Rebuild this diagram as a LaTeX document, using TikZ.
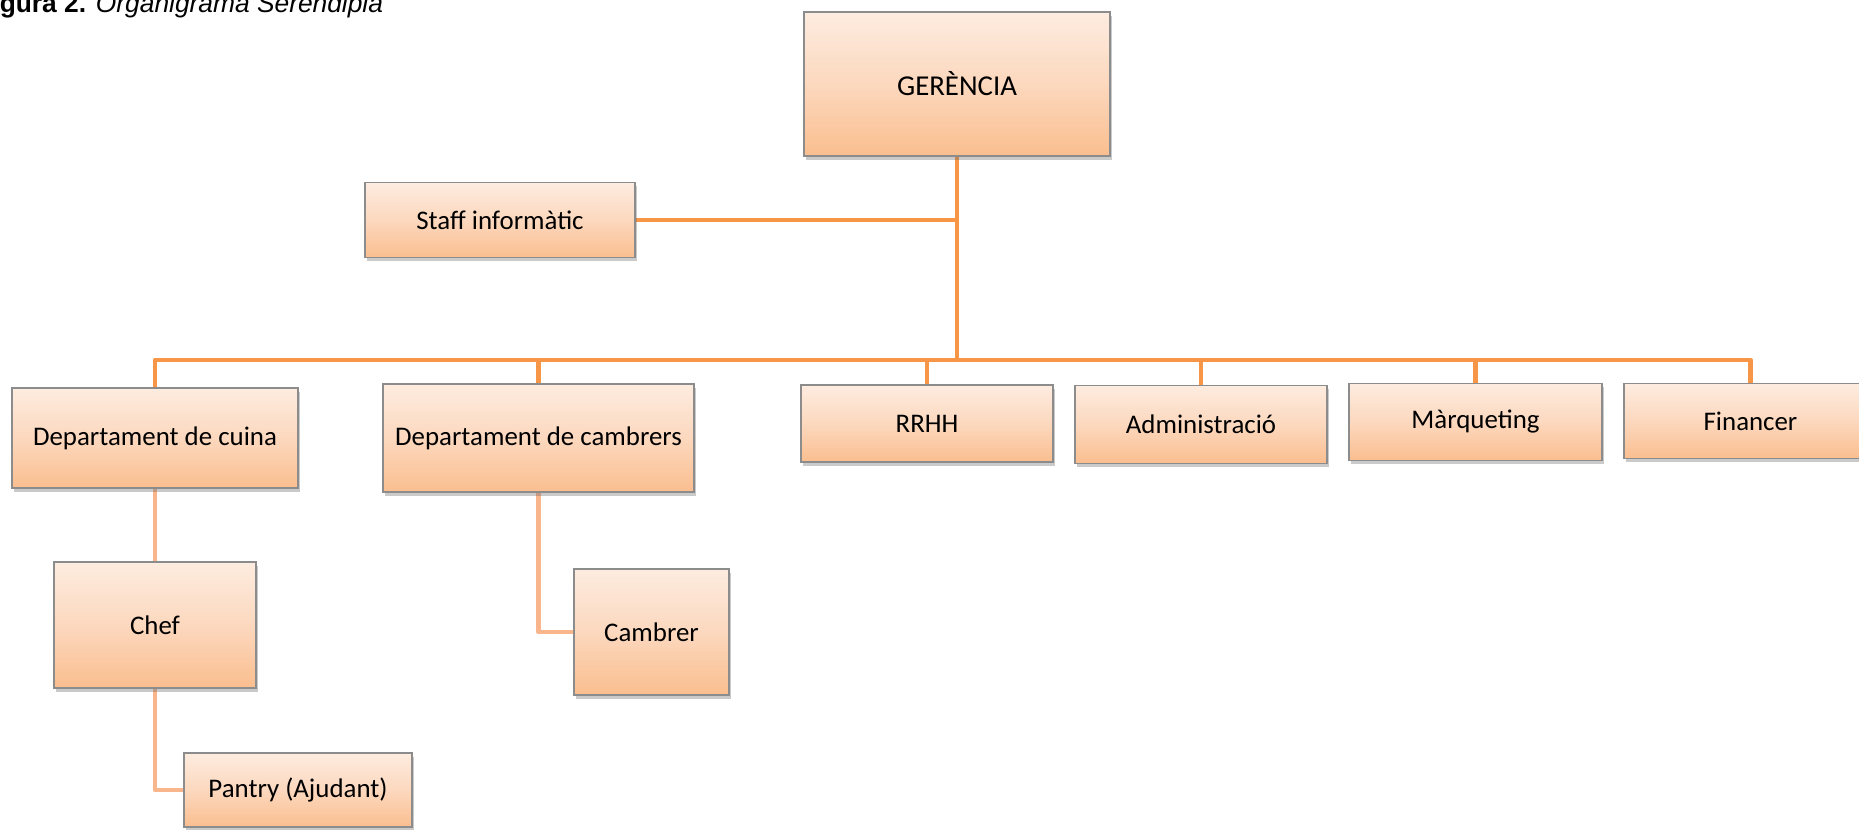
\documentclass[tikz,border=0pt]{standalone}
\usepackage{fontspec}
\setmainfont{Carlito}
\newfontfamily\capfont{Liberation Sans}
\usetikzlibrary{shadows,backgrounds}
\definecolor{boxtop}{RGB}{253,236,224}
\definecolor{boxmid}{RGB}{252,216,190}
\definecolor{boxbot}{RGB}{250,190,143}
\definecolor{boxline}{RGB}{140,140,140}
\definecolor{mainorange}{RGB}{247,150,70}
\definecolor{suborange}{RGB}{249,181,140}
\tikzset{
  orgbox/.style 2 args={draw=boxline, line width=0.8pt,
    top color=boxtop, bottom color=boxbot, middle color=boxmid,
    drop shadow={shadow xshift=1.2pt, shadow yshift=-2pt, opacity=0.35, fill=black!60},
    minimum width=#1*0.02cm, minimum height=#2*0.02cm, inner sep=0pt,
    font=\fontsize{15.3}{18}\selectfont, text=black},
  mainline/.style={draw=mainorange, line width=2.6pt, line join=round},
  subline/.style={draw=suborange, line width=2.6pt, line join=round},
  captext/.style={anchor=base west, inner sep=0pt, font=\capfont\fontsize{15}{18}\selectfont}
}
\begin{document}
\begin{tikzpicture}[x=0.02cm, y=-0.02cm]
\useasboundingbox (0,0) rectangle (1859,829);
\clip (0,0) rectangle (1859,829);
\node[captext] (cap) at (-24,12) {\textbf{Figura 2.} \textit{Organigrama Serendipia}};
\node[orgbox={306}{144}, font=\fontsize{16.4}{19}\selectfont] (ger) at (957,84) {GERÈNCIA};
\node[orgbox={270}{75}] (staff) at (500,220) {Staff informàtic};
\node[orgbox={286}{100}] (cuina) at (155,438) {Departament de cuina};
\node[orgbox={311}{108}] (cambrers) at (538.5,438) {Departament de cambrers};
\node[orgbox={252}{77}] (rrhh) at (927,423.5) {RRHH};
\node[orgbox={252}{78}] (admin) at (1201,424.5) {Administració};
\node[orgbox={253}{77}] (marq) at (1475.5,422) {Màrqueting};
\node[orgbox={253}{75}] (fin) at (1750.5,421) {Financer};
\node[orgbox={202}{126}] (chef) at (155,625) {Chef};
\node[orgbox={155}{126}] (cambrer) at (651.5,632) {Cambrer};
\node[orgbox={228}{74}] (pantry) at (298,790) {Pantry (Ajudant)};
\coordinate (bus) at (957,360);
\begin{pgfonlayer}{background}
  \draw[mainline] (ger.south) -- (bus);
  \foreach \n in {cuina,cambrers,rrhh,admin,marq,fin} \draw[mainline] (bus) -| (\n.north);
  \draw[mainline] (staff.east) -- (staff.east -| bus);
  \draw[subline] (cuina.south) -- (chef.north);
  \draw[subline] (chef.south) |- (pantry.west);
  \draw[subline] (cambrers.south) |- (cambrer.west);
\end{pgfonlayer}
\end{tikzpicture}
\end{document}
